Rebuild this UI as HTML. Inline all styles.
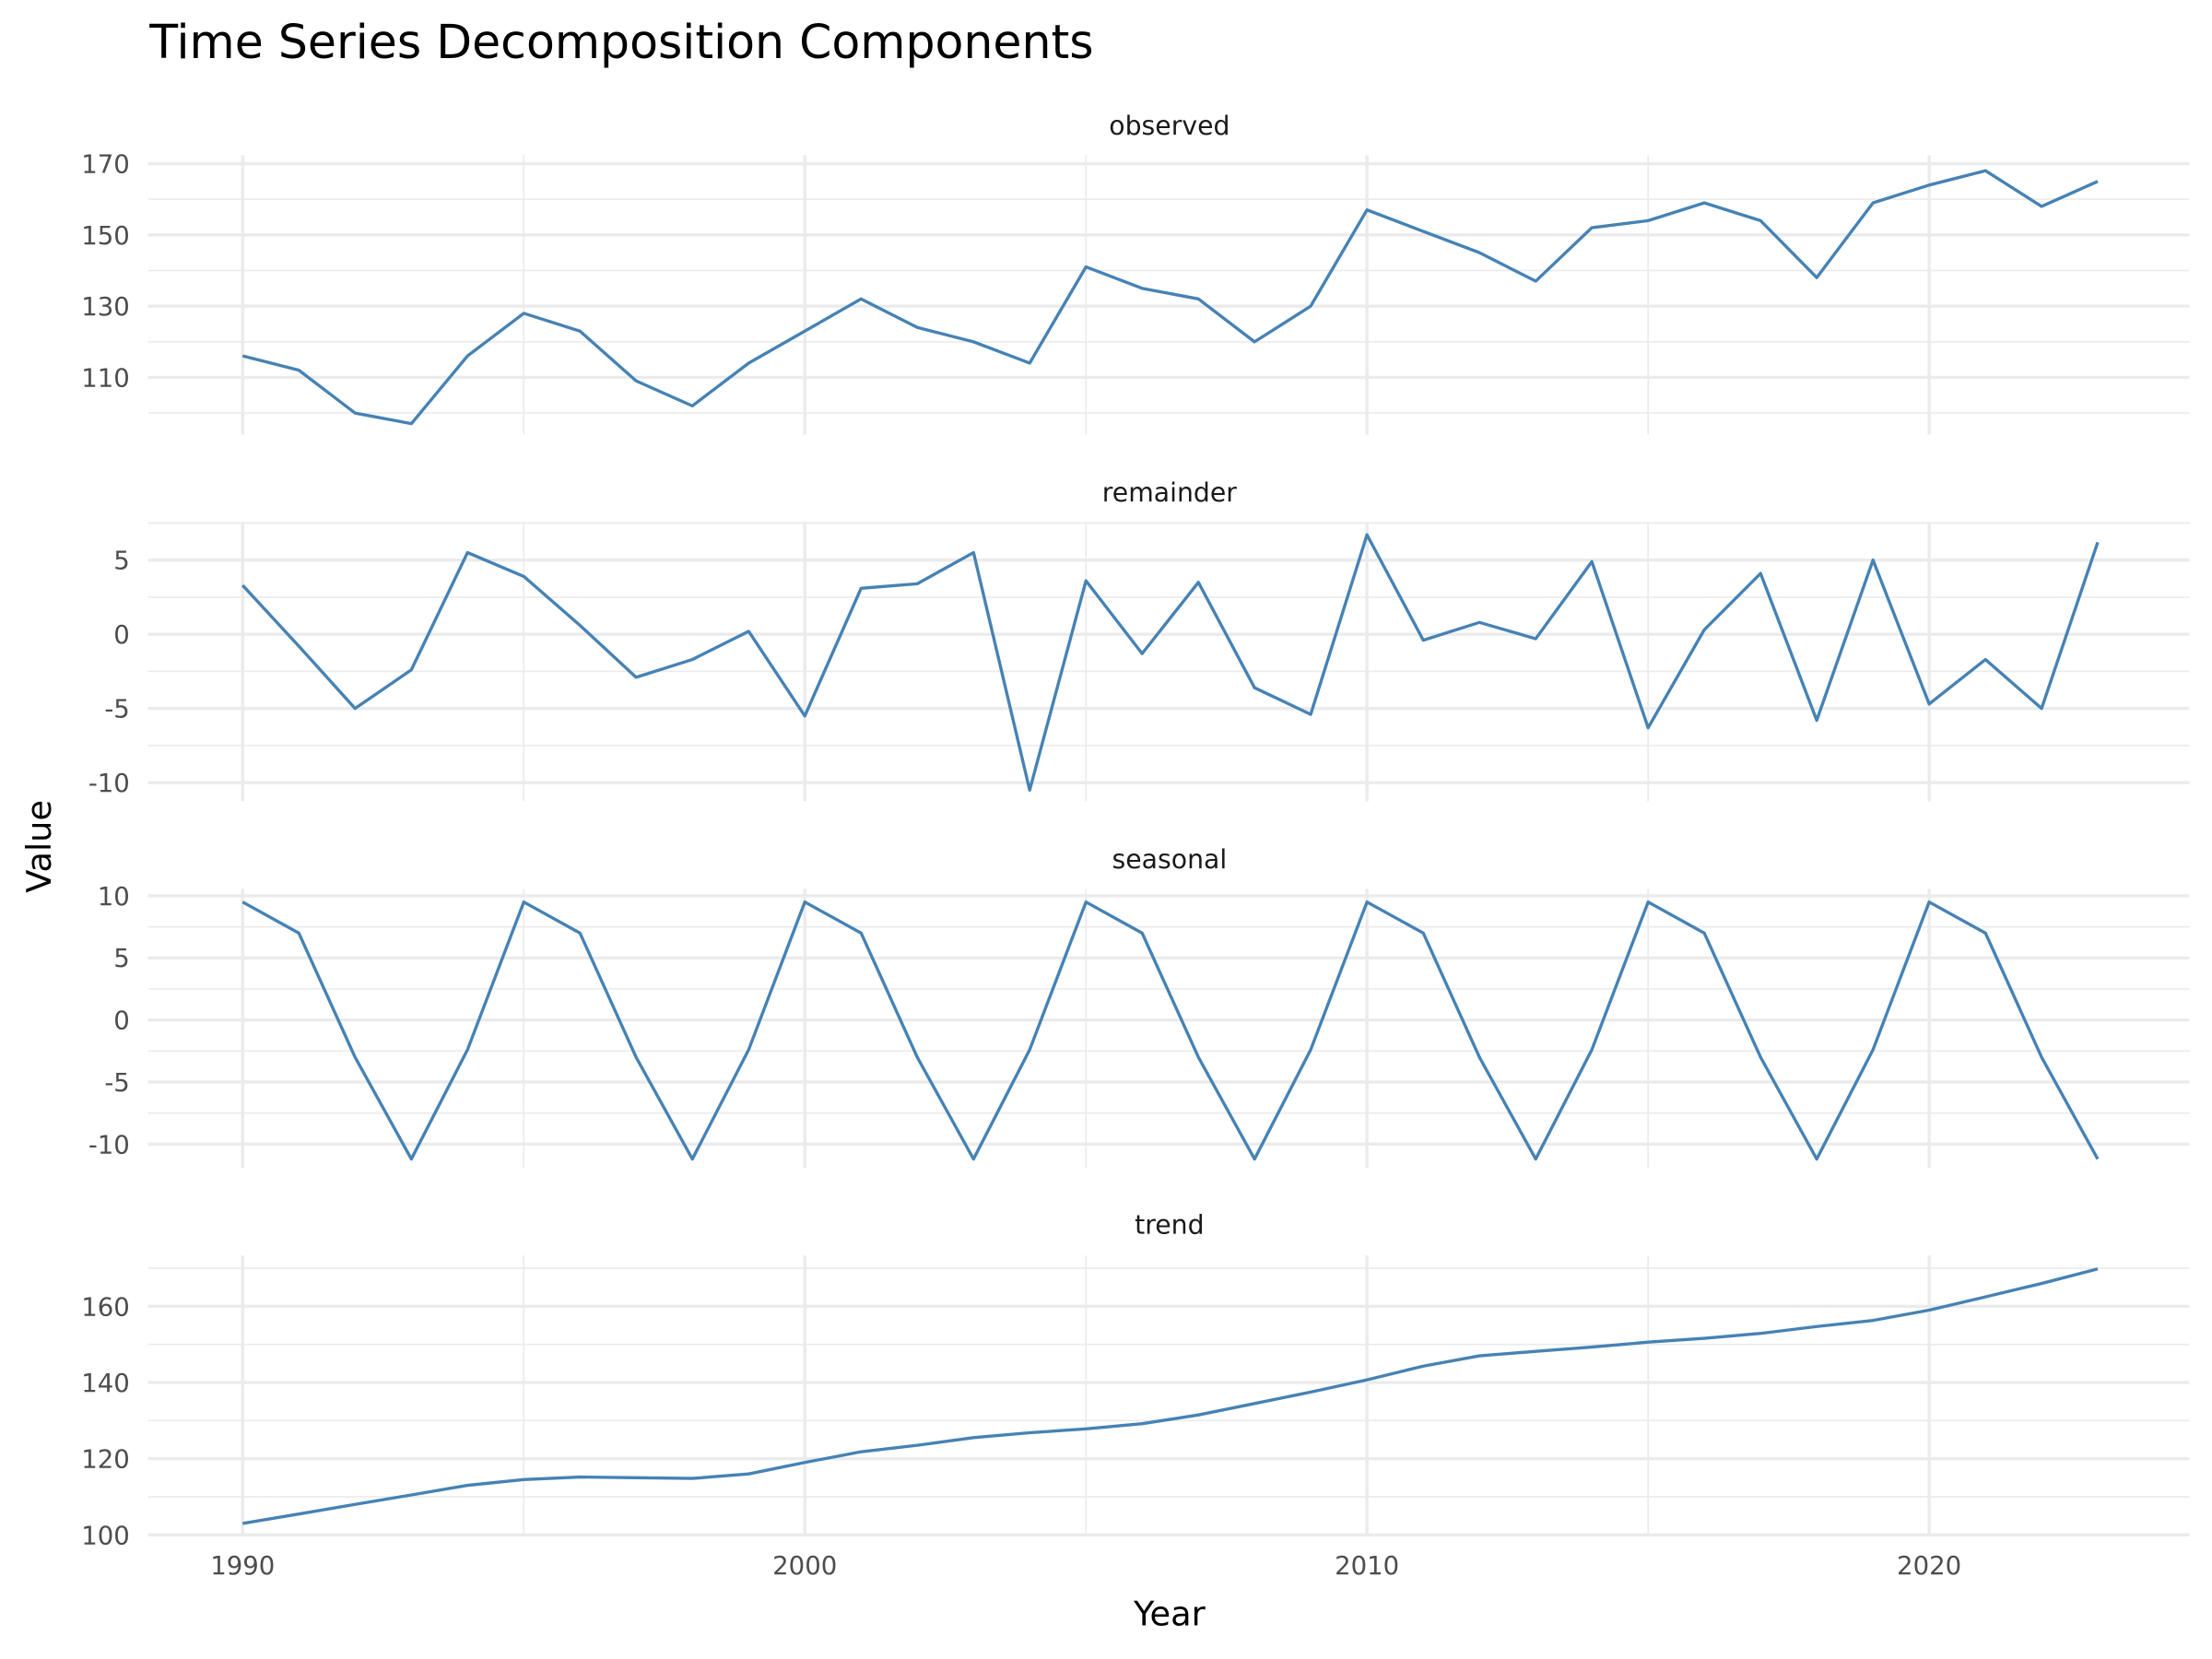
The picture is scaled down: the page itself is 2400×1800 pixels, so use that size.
<!DOCTYPE html>
<html><head><meta charset="utf-8">
<style>html,body{margin:0;padding:0;background:#fff}svg{display:block}</style>
</head><body>
<svg id="s" width="2400" height="1800" viewBox="0 0 1568 1176" xmlns="http://www.w3.org/2000/svg" font-family="DejaVu Sans, Liberation Sans, sans-serif">
<rect width="1568" height="1176" fill="#fff"/>
<text x="106" y="41" font-size="33" fill="#000">Time Series Decomposition Components</text>
<text transform="translate(36,600) rotate(-90)" font-size="24" text-anchor="middle" fill="#000">Value</text>
<text x="829" y="1152" font-size="24" text-anchor="middle" fill="#000">Year</text>
<g id="g"></g>
</svg>
<script>
const NS="http://www.w3.org/2000/svg",g=document.getElementById('g');
function el(t,a,txt){const e=document.createElementNS(NS,t);for(const k in a)e.setAttribute(k,a[k]);if(txt!==undefined)e.textContent=txt;g.appendChild(e);return e;}
const X=y=>172+(y-1990)*39.85;
const L=105,R=1552;
const panels=[
 {name:"observed",lab:89,top:110,bot:308,ticks:[170,150,130,110],y0:170,p0:116,k:50.5/20,minor:[180,160,140,120,100],
  d:[116,112,100,97,116,128,123,109,102,114,123,132,124,120,114,141,135,132,120,130,157,151,145,137,152,154,159,154,138,159,164,168,158,165]},
 {name:"remainder",lab:349,top:370,bot:568,ticks:[5,0,-5,-10],y0:5,p0:397,k:52.6/5,minor:[7.5,2.5,-2.5,-7.5],
  d:[3.3,-0.8,-5,-2.4,5.5,3.9,0.6,-2.9,-1.7,0.2,-5.5,3.1,3.4,5.5,-10.5,3.6,-1.3,3.5,-3.6,-5.4,6.7,-0.4,0.8,-0.3,4.9,-6.3,0.3,4.1,-5.8,5.0,-4.7,-1.7,-5.0,6.2]},
 {name:"seasonal",lab:609,top:630,bot:828,ticks:[10,5,0,-5,-10],y0:10,p0:635,k:44/5,minor:[7.5,2.5,-2.5,-7.5],d:[]},
 {name:"trend",lab:868,top:890,bot:1088,ticks:[160,140,120,100],y0:160,p0:926,k:54/20,minor:[170,150,130,110],
  d:[103,105.5,108,110.5,113,114.5,115.2,115,114.8,116,119,121.8,123.5,125.5,126.8,127.8,129.2,131.5,134.5,137.5,140.7,144.3,147,148.2,149.3,150.6,151.6,152.9,154.7,156.3,159,162.5,166,169.8]}
];
const sp=[9.5,7,-3,-11.2,-2.4];for(let i=0;i<34;i++)panels[2].d.push(sp[i%5]);
panels.forEach(p=>{
 const Y=v=>p.p0+(p.y0-v)*p.k;
 p.minor.forEach(v=>{const y=Y(v);if(y>p.top-2&&y<p.bot+2)el('line',{x1:L,x2:R,y1:y,y2:y,stroke:'#ebebeb','stroke-width':1.1});});
 [1995,2005,2015].forEach(yr=>el('line',{x1:X(yr),x2:X(yr),y1:p.top,y2:p.bot,stroke:'#ebebeb','stroke-width':1.1}));
 p.ticks.forEach(v=>{const y=Y(v);el('line',{x1:L,x2:R,y1:y,y2:y,stroke:'#ebebeb','stroke-width':2.2});
  el('text',{x:92,y:y+6.5,'font-size':18,'text-anchor':'end',fill:'#4d4d4d'},String(v));});
 [1990,2000,2010,2020].forEach(yr=>el('line',{x1:X(yr),x2:X(yr),y1:p.top,y2:p.bot,stroke:'#ebebeb','stroke-width':2.2}));
 el('text',{x:829,y:p.lab+6.5,'font-size':18.5,'text-anchor':'middle',fill:'#1a1a1a'},p.name);
 el('polyline',{points:p.d.map((v,i)=>X(1990+i).toFixed(1)+','+Y(v).toFixed(1)).join(' '),fill:'none',stroke:'#4682b4','stroke-width':2.2,'stroke-linejoin':'round'});
});
[1990,2000,2010,2020].forEach(yr=>el('text',{x:X(yr),y:1116,'font-size':18,'text-anchor':'middle',fill:'#4d4d4d'},String(yr)));
</script>
</body></html>
